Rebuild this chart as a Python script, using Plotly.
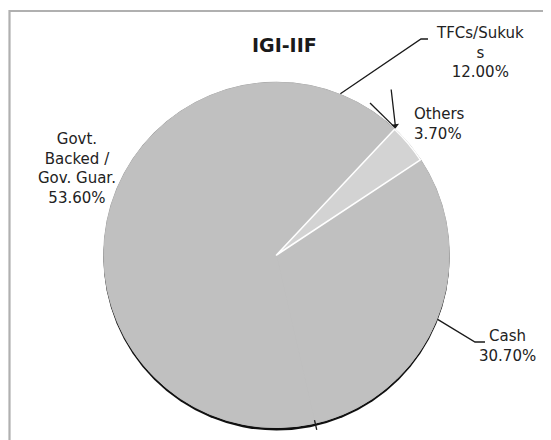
import math
import plotly.graph_objects as go

# ---- data ----
categories = ["TFCs/Sukuks", "Others", "Cash", "Govt. Backed / Gov. Guar."]
values = [12.00, 3.70, 30.70, 53.60]
label_lines = [["TFCs/Sukuk", "s"], ["Others"], ["Cash"], ["Govt.", "Backed /", "Gov. Guar."]]
title_text = "IGI-IIF"

# ---- layout geometry (pixels, in screen coordinates of the page) ----
OFF = 8                      # default page body margin
W, H = 551 - OFF, 440 - OFF  # figure size
CX, CY, R = 276.5, 255.0, 172.5
MAIN = "#c0c0c0"
LIGHT = "#d3d3d3"
INK = "#1a1a1a"
FONT = "DejaVu Sans"


def px(x):
    return (x - OFF) / W


def py(y):
    return 1 - (y - OFF) / H


total = sum(values)
starts = [360.0 * sum(values[:i]) / total for i in range(len(values))]
ends = [360.0 * sum(values[:i + 1]) / total for i in range(len(values))]
mids = [(a + b) / 2 for a, b in zip(starts, ends)]


def edge(angle_deg, rr=R):
    a = math.radians(angle_deg)
    return CX + rr * math.sin(a), CY - rr * math.cos(a)


# draw order: put "Others" last so its white outline sits on top
order = [2, 3, 0, 1]
colors = [LIGHT if categories[i] == "Others" else MAIN for i in order]
line_colors = ["#ffffff" if categories[i] == "Others" else MAIN for i in order]
line_widths = [1.6 if categories[i] == "Others" else 1 for i in order]

fig = go.Figure(go.Pie(
    labels=[categories[i] for i in order],
    values=[values[i] for i in order],
    sort=False,
    direction="clockwise",
    rotation=starts[order[0]],
    marker=dict(colors=colors, line=dict(color=line_colors, width=line_widths)),
    textinfo="none",
    hoverinfo="label+percent",
    showlegend=False,
    domain=dict(x=[px(CX - R), px(CX + R)], y=[py(CY + R), py(CY - R)]),
))

shapes = []
# outer frame
shapes.append(dict(type="rect", xref="paper", yref="paper",
                   x0=px(9.5), x1=px(W + 40), y0=py(H + 40), y1=py(11),
                   line=dict(color="#b0b0b0", width=2.2), fillcolor="rgba(0,0,0,0)", layer="below"))
# pie shadow / outline
shapes.append(dict(type="circle", xref="paper", yref="paper",
                   x0=px(CX - R - 0.6), x1=px(CX + R + 0.6), y0=py(CY + R + 3.0), y1=py(CY - R + 1.5),
                   fillcolor="#101010", line=dict(width=0), layer="below"))
shapes.append(dict(type="circle", xref="paper", yref="paper",
                   x0=px(CX - R - 0.8), x1=px(CX + R + 0.8), y0=py(CY + R + 0.6), y1=py(CY - R - 0.8),
                   fillcolor="#9a9a9a", line=dict(width=0), layer="below"))


def path(points):
    return "M " + " L ".join(f"{px(x):.5f},{py(y):.5f}" for x, y in points)


def line_shape(points):
    return dict(type="path", xref="paper", yref="paper", path=path(points),
                line=dict(color=INK, width=1.3), layer="above")


# TFCs leader (from slice mid-angle)
tx, ty = edge(mids[0], R + 1)
shapes.append(line_shape([(tx, ty), (421, 39), (428, 39)]))
# Others leaders converge at the TFCs/Others boundary
ox, oy = edge(starts[1], R + 1.5)
shapes.append(line_shape([(ox, oy), (370, 103)]))
# Cash leader
cx_, cy_ = edge(mids[2], R + 1)
shapes.append(line_shape([(cx_, cy_), (475, 342), (485, 342)]))
# small tick at Cash/Govt boundary
b0 = edge(ends[2], R - 3)
b1 = edge(ends[2], R + 7)
shapes.append(line_shape([b0, b1]))

pct = [f"{v:.2f}%" for v in values]

annotations = [
    dict(text=f"<b>{title_text}</b>", x=px(284), y=py(45), xref="paper", yref="paper",
         showarrow=False, xanchor="center", yanchor="middle",
         font=dict(family=FONT, size=19, color=INK)),
    dict(text="<br>".join(label_lines[0] + [pct[0]]), x=px(480), y=py(53), xref="paper", yref="paper",
         showarrow=False, xanchor="center", yanchor="middle", align="center",
         font=dict(family=FONT, size=15, color="#222")),
    dict(text="<br>".join(label_lines[1] + [pct[1]]), x=px(412), y=py(124), xref="paper", yref="paper",
         showarrow=False, xanchor="left", yanchor="middle", align="left",
         font=dict(family=FONT, size=15, color="#222")),
    dict(text="<br>".join(label_lines[2] + [pct[2]]), x=px(507), y=py(346), xref="paper", yref="paper",
         showarrow=False, xanchor="center", yanchor="middle", align="center",
         font=dict(family=FONT, size=15, color="#222")),
    dict(text="<br>".join(label_lines[3] + [pct[3]]), x=px(77), y=py(168), xref="paper", yref="paper",
         showarrow=False, xanchor="center", yanchor="middle", align="center",
         font=dict(family=FONT, size=15, color="#222")),
    # arrow into the Others slice
    dict(text="", x=px(ox), y=py(oy), xref="paper", yref="paper",
         showarrow=True, ax=391 - ox, ay=88 - oy, axref="pixel", ayref="pixel",
         arrowhead=1, arrowsize=1, arrowwidth=1.3, arrowcolor=INK, standoff=0),
]

fig.update_layout(
    width=W, height=H,
    margin=dict(l=0, r=0, t=0, b=0),
    paper_bgcolor="white", plot_bgcolor="white",
    shapes=shapes, annotations=annotations,
)

fig.write_html("out.html")
